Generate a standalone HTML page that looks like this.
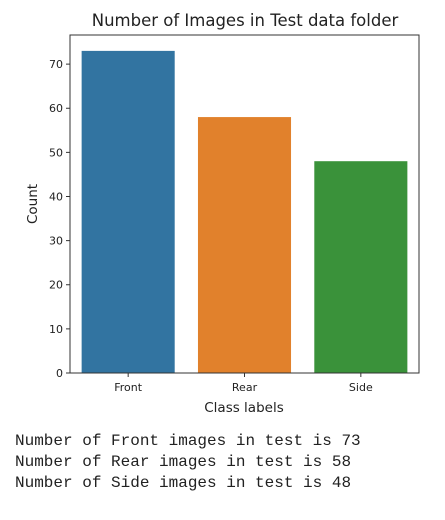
<!DOCTYPE html>
<html><head><meta charset="utf-8"><style>
body{margin:0;background:#fff;width:445px;height:520px;overflow:hidden;font-family:"DejaVu Sans","Liberation Sans",sans-serif}
pre{position:absolute;left:15px;top:431px;margin:0;font-family:"Liberation Mono",monospace;font-size:16px;line-height:21px;color:#222}
</style></head><body>
<svg width="445" height="420" style="position:absolute;left:0;top:0">
<text x="245" y="26" text-anchor="middle" font-size="16.5" fill="#222">Number of Images in Test data folder</text>
<g id="bars"></g>
<g id="yticks"></g>
<g id="xticks"></g>
<rect x="70" y="35" width="349" height="338" fill="none" stroke="#333" stroke-width="1"/>
<text x="244" y="412" text-anchor="middle" font-size="13.5" fill="#222">Class labels</text>
<text transform="translate(37,204) rotate(-90)" text-anchor="middle" font-size="13.5" fill="#222">Count</text>
</svg>
<pre>Number of Front images in test is 73
Number of Rear images in test is 58
Number of Side images in test is 48</pre>
<script>
const categories=["Front","Rear","Side"];
const counts=[73,58,48];
const colors=["#3274a1","#e1812c","#3a923a"];
const yTicks=[0,10,20,30,40,50,60,70];
const L=70,R=419,T=35,B=373,yMax=76.6;
const y=v=>B-(v/yMax)*(B-T);
const band=(R-L)/categories.length;
const x=i=>L+band*i;
const NS="http://www.w3.org/2000/svg";
const bars=document.getElementById('bars'),yt=document.getElementById('yticks'),xt=document.getElementById('xticks');
categories.forEach((c,i)=>{
 const r=document.createElementNS(NS,'rect');
 const bw=band*0.8;
 r.setAttribute('x',x(i)+band*0.1);r.setAttribute('width',bw);
 r.setAttribute('y',y(counts[i]));r.setAttribute('height',B-y(counts[i]));
 r.setAttribute('fill',colors[i]);
 
 
 bars.appendChild(r);
 const cx=x(i)+band/2;
 const l=document.createElementNS(NS,'line');
 l.setAttribute('x1',cx);l.setAttribute('x2',cx);l.setAttribute('y1',B);l.setAttribute('y2',B+4);l.setAttribute('stroke','#333');
 xt.appendChild(l);
 const t=document.createElementNS(NS,'text');
 t.setAttribute('x',cx);t.setAttribute('y',B+18);t.setAttribute('text-anchor','middle');t.setAttribute('font-size','11');t.setAttribute('fill','#222');
 
 
 t.textContent=c;xt.appendChild(t);
});
yTicks.forEach(v=>{
 const l=document.createElementNS(NS,'line');
 l.setAttribute('x1',L-4);l.setAttribute('x2',L);l.setAttribute('y1',y(v));l.setAttribute('y2',y(v));l.setAttribute('stroke','#333');
 yt.appendChild(l);
 const t=document.createElementNS(NS,'text');
 t.setAttribute('x',L-7);t.setAttribute('y',y(v)+4);t.setAttribute('text-anchor','end');t.setAttribute('font-size','11');t.setAttribute('fill','#222');
 
 
 t.textContent=v;yt.appendChild(t);
});
</script>
</body></html>
